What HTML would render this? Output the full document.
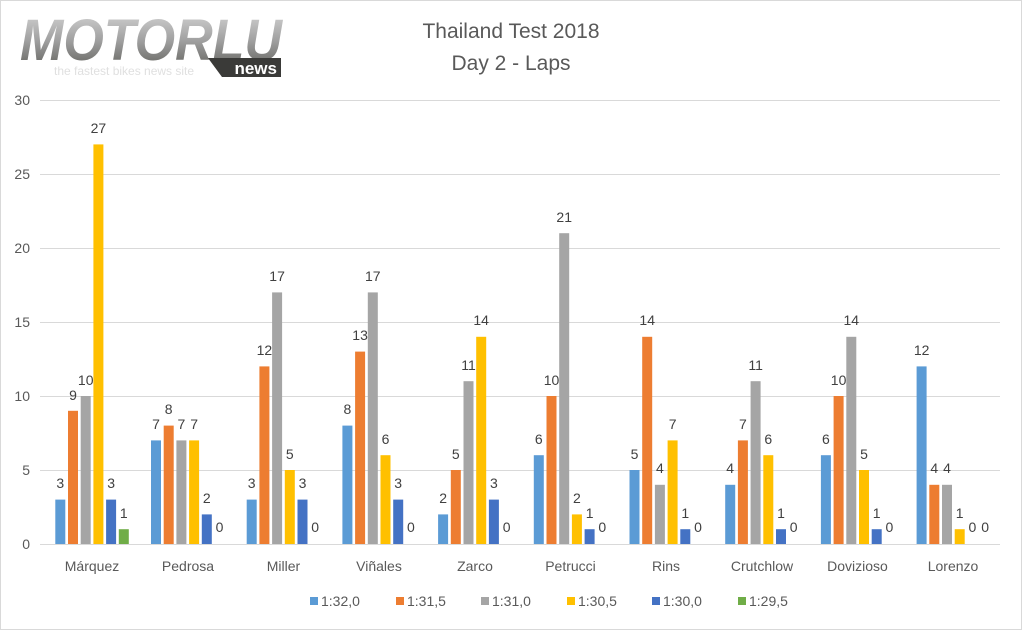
<!DOCTYPE html>
<html><head><meta charset="utf-8"><style>
html,body{margin:0;padding:0;background:#fff}
svg{display:block;font-family:"Liberation Sans","DejaVu Sans",sans-serif}
.l{font-size:14px;fill:#404040;text-anchor:middle}
.y{font-size:14px;fill:#595959;text-anchor:end}
.c{font-size:14px;fill:#595959;text-anchor:middle}
</style></head><body>
<svg width="1022" height="630" viewBox="0 0 1022 630" xmlns="http://www.w3.org/2000/svg">
<defs><linearGradient id="lg" x1="0" y1="0" x2="0" y2="1"><stop offset="0" stop-color="#d8d8d8"/><stop offset="0.5" stop-color="#a0a0a0"/><stop offset="1" stop-color="#5a5a55"/></linearGradient></defs>
<rect x="0.5" y="0.5" width="1021" height="629" fill="#fff" stroke="#d9d9d9"/>
<!-- logo -->
<text x="20" y="60" font-size="58" font-weight="bold" font-style="italic" fill="url(#lg)" textLength="262" lengthAdjust="spacingAndGlyphs">MOTORLU</text>
<text x="54" y="75" font-size="12" fill="#e0e0e0">the fastest bikes news site</text>
<polygon points="208,58 281,58 281,77 222,77" fill="#3a3a38"/>
<text x="277" y="74" font-size="17" font-weight="bold" fill="#fff" text-anchor="end">news</text>
<!-- title -->
<text x="511" y="38" font-size="21" fill="#595959" text-anchor="middle">Thailand Test 2018</text>
<text x="511" y="70" font-size="21" fill="#595959" text-anchor="middle">Day 2 - Laps</text>
<!-- grid -->
<g stroke="#d9d9d9" stroke-width="1">
<line x1="40" y1="100.5" x2="1000" y2="100.5"/><line x1="40" y1="174.5" x2="1000" y2="174.5"/><line x1="40" y1="248.5" x2="1000" y2="248.5"/><line x1="40" y1="322.5" x2="1000" y2="322.5"/><line x1="40" y1="396.5" x2="1000" y2="396.5"/><line x1="40" y1="470.5" x2="1000" y2="470.5"/><line x1="40" y1="544.5" x2="1000" y2="544.5"/>
</g>
<text class="y" x="30" y="105">30</text><text class="y" x="30" y="179">25</text><text class="y" x="30" y="253">20</text><text class="y" x="30" y="327">15</text><text class="y" x="30" y="401">10</text><text class="y" x="30" y="475">5</text><text class="y" x="30" y="549">0</text>
<!-- Márquez 3,9,10,27,3,1 -->
<g transform="translate(55.3,0)">
<rect x="0" y="499.6" width="10" height="44.4" fill="#5B9BD5"/><rect x="12.7" y="410.8" width="10" height="133.2" fill="#ED7D31"/><rect x="25.4" y="396" width="10" height="148" fill="#A5A5A5"/><rect x="38.1" y="144.4" width="10" height="399.6" fill="#FFC000"/><rect x="50.8" y="499.6" width="10" height="44.4" fill="#4472C4"/><rect x="63.5" y="529.2" width="10" height="14.8" fill="#70AD47"/>
<text class="l" x="5" y="488">3</text><text class="l" x="17.7" y="400">9</text><text class="l" x="30.4" y="385">10</text><text class="l" x="43.1" y="133">27</text><text class="l" x="55.8" y="488">3</text><text class="l" x="68.5" y="518">1</text>
</g>
<!-- Pedrosa 7,8,7,7,2,0 -->
<g transform="translate(151,0)">
<rect x="0" y="440.4" width="10" height="103.6" fill="#5B9BD5"/><rect x="12.7" y="425.6" width="10" height="118.4" fill="#ED7D31"/><rect x="25.4" y="440.4" width="10" height="103.6" fill="#A5A5A5"/><rect x="38.1" y="440.4" width="10" height="103.6" fill="#FFC000"/><rect x="50.8" y="514.4" width="10" height="29.6" fill="#4472C4"/>
<text class="l" x="5" y="429">7</text><text class="l" x="17.7" y="414">8</text><text class="l" x="30.4" y="429">7</text><text class="l" x="43.1" y="429">7</text><text class="l" x="55.8" y="503">2</text><text class="l" x="68.5" y="532">0</text>
</g>
<!-- Miller 3,12,17,5,3,0 -->
<g transform="translate(246.7,0)">
<rect x="0" y="499.6" width="10" height="44.4" fill="#5B9BD5"/><rect x="12.7" y="366.4" width="10" height="177.6" fill="#ED7D31"/><rect x="25.4" y="292.4" width="10" height="251.6" fill="#A5A5A5"/><rect x="38.1" y="470" width="10" height="74" fill="#FFC000"/><rect x="50.8" y="499.6" width="10" height="44.4" fill="#4472C4"/>
<text class="l" x="5" y="488">3</text><text class="l" x="17.7" y="355">12</text><text class="l" x="30.4" y="281">17</text><text class="l" x="43.1" y="459">5</text><text class="l" x="55.8" y="488">3</text><text class="l" x="68.5" y="532">0</text>
</g>
<!-- Viñales 8,13,17,6,3,0 -->
<g transform="translate(342.4,0)">
<rect x="0" y="425.6" width="10" height="118.4" fill="#5B9BD5"/><rect x="12.7" y="351.6" width="10" height="192.4" fill="#ED7D31"/><rect x="25.4" y="292.4" width="10" height="251.6" fill="#A5A5A5"/><rect x="38.1" y="455.2" width="10" height="88.8" fill="#FFC000"/><rect x="50.8" y="499.6" width="10" height="44.4" fill="#4472C4"/>
<text class="l" x="5" y="414">8</text><text class="l" x="17.7" y="340">13</text><text class="l" x="30.4" y="281">17</text><text class="l" x="43.1" y="444">6</text><text class="l" x="55.8" y="488">3</text><text class="l" x="68.5" y="532">0</text>
</g>
<!-- Zarco 2,5,11,14,3,0 -->
<g transform="translate(438.1,0)">
<rect x="0" y="514.4" width="10" height="29.6" fill="#5B9BD5"/><rect x="12.7" y="470" width="10" height="74" fill="#ED7D31"/><rect x="25.4" y="381.2" width="10" height="162.8" fill="#A5A5A5"/><rect x="38.1" y="336.8" width="10" height="207.2" fill="#FFC000"/><rect x="50.8" y="499.6" width="10" height="44.4" fill="#4472C4"/>
<text class="l" x="5" y="503">2</text><text class="l" x="17.7" y="459">5</text><text class="l" x="30.4" y="370">11</text><text class="l" x="43.1" y="325">14</text><text class="l" x="55.8" y="488">3</text><text class="l" x="68.5" y="532">0</text>
</g>
<!-- Petrucci 6,10,21,2,1,0 -->
<g transform="translate(533.8,0)">
<rect x="0" y="455.2" width="10" height="88.8" fill="#5B9BD5"/><rect x="12.7" y="396" width="10" height="148" fill="#ED7D31"/><rect x="25.4" y="233.2" width="10" height="310.8" fill="#A5A5A5"/><rect x="38.1" y="514.4" width="10" height="29.6" fill="#FFC000"/><rect x="50.8" y="529.2" width="10" height="14.8" fill="#4472C4"/>
<text class="l" x="5" y="444">6</text><text class="l" x="17.7" y="385">10</text><text class="l" x="30.4" y="222">21</text><text class="l" x="43.1" y="503">2</text><text class="l" x="55.8" y="518">1</text><text class="l" x="68.5" y="532">0</text>
</g>
<!-- Rins 5,14,4,7,1,0 -->
<g transform="translate(629.5,0)">
<rect x="0" y="470" width="10" height="74" fill="#5B9BD5"/><rect x="12.7" y="336.8" width="10" height="207.2" fill="#ED7D31"/><rect x="25.4" y="484.8" width="10" height="59.2" fill="#A5A5A5"/><rect x="38.1" y="440.4" width="10" height="103.6" fill="#FFC000"/><rect x="50.8" y="529.2" width="10" height="14.8" fill="#4472C4"/>
<text class="l" x="5" y="459">5</text><text class="l" x="17.7" y="325">14</text><text class="l" x="30.4" y="473">4</text><text class="l" x="43.1" y="429">7</text><text class="l" x="55.8" y="518">1</text><text class="l" x="68.5" y="532">0</text>
</g>
<!-- Crutchlow 4,7,11,6,1,0 -->
<g transform="translate(725.2,0)">
<rect x="0" y="484.8" width="10" height="59.2" fill="#5B9BD5"/><rect x="12.7" y="440.4" width="10" height="103.6" fill="#ED7D31"/><rect x="25.4" y="381.2" width="10" height="162.8" fill="#A5A5A5"/><rect x="38.1" y="455.2" width="10" height="88.8" fill="#FFC000"/><rect x="50.8" y="529.2" width="10" height="14.8" fill="#4472C4"/>
<text class="l" x="5" y="473">4</text><text class="l" x="17.7" y="429">7</text><text class="l" x="30.4" y="370">11</text><text class="l" x="43.1" y="444">6</text><text class="l" x="55.8" y="518">1</text><text class="l" x="68.5" y="532">0</text>
</g>
<!-- Dovizioso 6,10,14,5,1,0 -->
<g transform="translate(820.9,0)">
<rect x="0" y="455.2" width="10" height="88.8" fill="#5B9BD5"/><rect x="12.7" y="396" width="10" height="148" fill="#ED7D31"/><rect x="25.4" y="336.8" width="10" height="207.2" fill="#A5A5A5"/><rect x="38.1" y="470" width="10" height="74" fill="#FFC000"/><rect x="50.8" y="529.2" width="10" height="14.8" fill="#4472C4"/>
<text class="l" x="5" y="444">6</text><text class="l" x="17.7" y="385">10</text><text class="l" x="30.4" y="325">14</text><text class="l" x="43.1" y="459">5</text><text class="l" x="55.8" y="518">1</text><text class="l" x="68.5" y="532">0</text>
</g>
<!-- Lorenzo 12,4,4,1,0,0 -->
<g transform="translate(916.6,0)">
<rect x="0" y="366.4" width="10" height="177.6" fill="#5B9BD5"/><rect x="12.7" y="484.8" width="10" height="59.2" fill="#ED7D31"/><rect x="25.4" y="484.8" width="10" height="59.2" fill="#A5A5A5"/><rect x="38.1" y="529.2" width="10" height="14.8" fill="#FFC000"/>
<text class="l" x="5" y="355">12</text><text class="l" x="17.7" y="473">4</text><text class="l" x="30.4" y="473">4</text><text class="l" x="43.1" y="518">1</text><text class="l" x="55.8" y="532">0</text><text class="l" x="68.5" y="532">0</text>
</g>
<!-- categories -->
<text class="c" x="92" y="571">Márquez</text><text class="c" x="188" y="571">Pedrosa</text><text class="c" x="283.5" y="571">Miller</text><text class="c" x="379" y="571">Viñales</text><text class="c" x="475" y="571">Zarco</text><text class="c" x="570.5" y="571">Petrucci</text><text class="c" x="666" y="571">Rins</text><text class="c" x="762" y="571">Crutchlow</text><text class="c" x="857.5" y="571">Dovizioso</text><text class="c" x="953" y="571">Lorenzo</text>
<!-- legend -->
<g font-size="14" fill="#595959">
<rect x="310" y="597" width="8" height="8" fill="#5B9BD5"/><text x="321" y="606">1:32,0</text>
<rect x="396" y="597" width="8" height="8" fill="#ED7D31"/><text x="407" y="606">1:31,5</text>
<rect x="481" y="597" width="8" height="8" fill="#A5A5A5"/><text x="492" y="606">1:31,0</text>
<rect x="567" y="597" width="8" height="8" fill="#FFC000"/><text x="578" y="606">1:30,5</text>
<rect x="652" y="597" width="8" height="8" fill="#4472C4"/><text x="663" y="606">1:30,0</text>
<rect x="738" y="597" width="8" height="8" fill="#70AD47"/><text x="749" y="606">1:29,5</text>
</g>
</svg>
</body></html>
